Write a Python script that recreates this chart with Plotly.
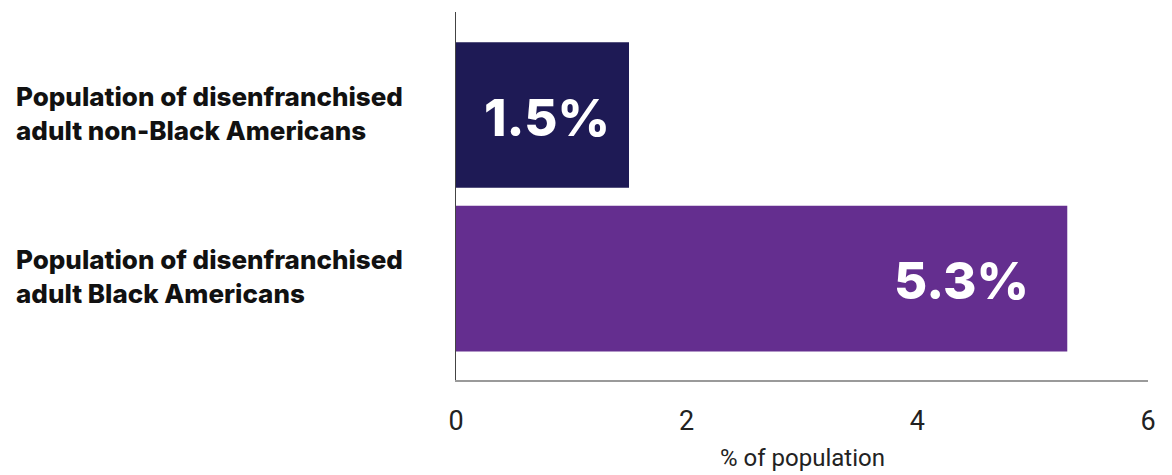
import plotly.graph_objects as go

categories = ["Population of disenfranchised adult Black Americans",
              "Population of disenfranchised adult non-Black Americans"]
label_lines = [["Population of disenfranchised", "adult Black Americans"],
               ["Population of disenfranchised", "adult non-Black Americans"]]
values = [5.3, 1.5]
value_labels = ["5.3%", "1.5%"]
colors = ["#642e8f", "#1e1a55"]
x_ticks = [0, 2, 4, 6]
x_title = "% of population"

fig = go.Figure()
fig.add_trace(go.Bar(
    y=categories, x=values, orientation="h",
    marker=dict(color=colors, line=dict(width=0)),
    width=0.89, hoverinfo="skip",
))

vfont = dict(family="Inter", size=51, color="white", weight=800)
annotations = []
# value labels
for cat, v, t in zip(categories, values, value_labels):
    if v > 3:
        annotations.append(dict(x=v, y=cat, xref="x", yref="y", text=t, showarrow=False,
                                xanchor="right", yanchor="middle", xshift=-36, yshift=-2,
                                font=vfont))
    else:
        annotations.append(dict(x=v / 2, y=cat, xref="x", yref="y", text=t, showarrow=False,
                                xanchor="center", yanchor="middle", xshift=4, yshift=-2,
                                font=vfont))
# category labels
for cat, lines in zip(categories, label_lines):
    annotations.append(dict(x=0, y=cat, xref="paper", yref="y", text="<br>".join(lines),
                            showarrow=False, align="left",
                            xanchor="left", yanchor="middle", xshift=-442, yshift=2,
                            font=dict(family="Inter", size=26, color="#111111", weight=800)))

# axis title as annotation to control position exactly
annotations.append(dict(x=0.5, y=0, xref="paper", yref="paper", text=x_title, showarrow=False,
                        xanchor="center", yanchor="middle", yshift=-78,
                        font=dict(family="Roboto", size=24, color="#222222")))

fig.update_layout(
    width=1172, height=475,
    margin=dict(l=456, r=24, t=12, b=95, autoexpand=False),
    paper_bgcolor="white", plot_bgcolor="white",
    showlegend=False,
    annotations=annotations,
    xaxis=dict(range=[0, 6], tickvals=x_ticks, ticktext=[str(t) for t in x_ticks],
               showgrid=False, zeroline=False, showline=True, linecolor="#9a9a9a", linewidth=1.5,
               ticks="", ticklabelstandoff=16, automargin=False,
               tickfont=dict(family="Roboto", size=27, color="#222222")),
    yaxis=dict(range=[-0.62, 1.63], showgrid=False, zeroline=False, showline=True, automargin=False,
               linecolor="#444444", linewidth=1.2, showticklabels=False, ticks=""),
)

fig.write_html("out.html")
